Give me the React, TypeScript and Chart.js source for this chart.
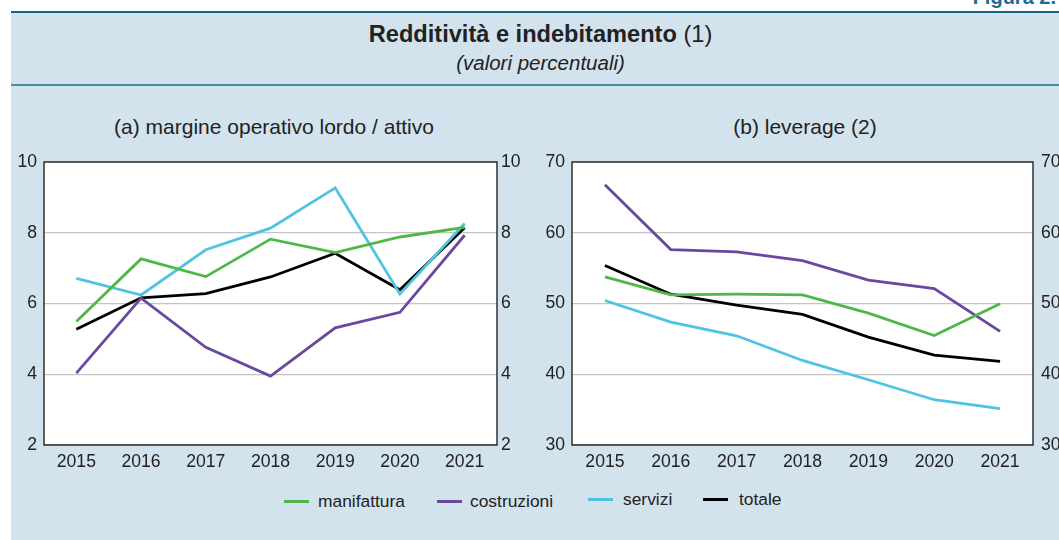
import React, { useEffect, useRef } from "react";
import { Chart, registerables } from "chart.js";

Chart.register(...registerables);

// ---- data ----
const years = ["2015", "2016", "2017", "2018", "2019", "2020", "2021"];

const molManifattura = [5.49, 7.26, 6.76, 7.82, 7.44, 7.88, 8.15];
const molCostruzioni = [4.03, 6.15, 4.76, 3.95, 5.31, 5.75, 7.93];
const molServizi = [6.71, 6.24, 7.52, 8.13, 9.27, 6.27, 8.26];
const molTotale = [5.27, 6.16, 6.28, 6.75, 7.42, 6.39, 8.14];

const levManifattura = [53.76, 51.22, 51.32, 51.22, 48.64, 45.48, 49.95];
const levCostruzioni = [66.8, 57.62, 57.3, 56.07, 53.3, 52.12, 46.05];
const levServizi = [50.42, 47.36, 45.44, 41.95, 39.22, 36.4, 35.13];
const levTotale = [55.36, 51.32, 49.76, 48.45, 45.25, 42.71, 41.81];

const seriesNames = ["manifattura", "costruzioni", "servizi", "totale"];
const seriesColors = ["#4db848", "#6a48a0", "#4fc4e2", "#000000"];

const titleMain = "Redditività e indebitamento";
const titleNote = " (1)";
const titleSub = "(valori percentuali)";
const panelA = "(a) margine operativo lordo / attivo";
const panelB = "(b) leverage (2)";
const figLabel = "Figura 2.";

const FONT = '"Liberation Sans", Arial, Helvetica, sans-serif';

const framePlugin = {
  id: "frame",
  beforeDraw(chart: any) {
    const { ctx, chartArea: a } = chart;
    ctx.save();
    ctx.fillStyle = "#ffffff";
    ctx.fillRect(a.left, a.top, a.right - a.left, a.bottom - a.top);
    ctx.restore();
  },
  beforeDatasetsDraw(chart: any) {
    const { ctx, chartArea: a } = chart;
    ctx.save();
    ctx.strokeStyle = "#222222";
    ctx.lineWidth = 1.4;
    ctx.strokeRect(a.left, a.top, a.right - a.left, a.bottom - a.top);
    ctx.restore();
  },
};

type Area = { left: number; right: number; top: number; bottom: number };

function LineChart(props: {
  series: number[][];
  min: number;
  max: number;
  step: number;
  width: number;
  height: number;
  x: number;
  y: number;
  area: Area;
  padL: number;
  padR: number;
}) {
  const ref = useRef<HTMLCanvasElement | null>(null);
  useEffect(() => {
    if (!ref.current) return;
    const { series, min, max, step, width, height, area, padL, padR } = props;
    const tickFont = { family: FONT, size: 17.6 };
    const chart = new Chart(ref.current, {
      type: "line",
      data: {
        labels: years,
        datasets: series.map((d, i) => ({
          label: seriesNames[i],
          data: d,
          borderColor: seriesColors[i],
          backgroundColor: seriesColors[i],
          borderWidth: 2.8,
          pointRadius: 0,
          tension: 0,
          fill: false,
        })),
      },
      options: {
        responsive: false,
        maintainAspectRatio: false,
        animation: false,
        layout: { padding: { top: area.top, left: 0, right: 0, bottom: 0 } },
        plugins: {
          legend: { display: false },
          title: { display: false },
          tooltip: { enabled: false },
        },
        scales: {
          x: {
            offset: true,
            grid: { display: false, drawTicks: false },
            border: { display: false },
            ticks: { font: tickFont, color: "#222", padding: 7, maxRotation: 0, autoSkip: false },
            afterFit: (s: any) => {
              s.height = height - area.bottom;
            },
          },
          y: {
            position: "left",
            min,
            max,
            ticks: { stepSize: step, font: tickFont, color: "#222", padding: padL },
            grid: { color: "#c4c4c4", lineWidth: 1.2, drawTicks: false },
            border: { display: false },
            afterFit: (s: any) => {
              s.width = area.left;
            },
          },
          y2: {
            position: "right",
            min,
            max,
            ticks: { stepSize: step, font: tickFont, color: "#222", padding: padR },
            grid: { display: false, drawTicks: false },
            border: { display: false },
            afterFit: (s: any) => {
              s.width = width - area.right;
            },
          },
        },
      } as any,
      plugins: [framePlugin],
    });
    return () => chart.destroy();
  }, []);
  return (
    <canvas
      ref={ref}
      width={props.width}
      height={props.height}
      style={{ position: "absolute", left: props.x, top: props.y, width: props.width, height: props.height }}
    />
  );
}

const legendItems = [
  { lineX: 284, textX: 318, y: 501 },
  { lineX: 437, textX: 470, y: 501 },
  { lineX: 588, textX: 623, y: 499 },
  { lineX: 703, textX: 739, y: 499 },
];

export default function App() {
  return (
    <div
      style={{
        position: "absolute",
        left: 0,
        top: 0,
        width: 1059,
        height: 540,
        overflow: "hidden",
        background: "#ffffff",
        fontFamily: FONT,
        color: "#222",
      }}
    >
      <div
        style={{
          position: "absolute",
          right: 3,
          top: -13,
          fontSize: 20,
          lineHeight: "20px",
          fontWeight: "bold",
          color: "#1d6a93",
          whiteSpace: "nowrap",
        }}
      >
        {figLabel}
      </div>
      <div
        style={{
          position: "absolute",
          left: 11,
          top: 11,
          right: 0,
          bottom: 0,
          background: "#d2e3ed",
          borderTop: "2px solid #1b6386",
        }}
      />
      <div style={{ position: "absolute", left: 11, right: 0, top: 84, height: 2, background: "#4b8aa9" }} />
      <div
        style={{
          position: "absolute",
          left: 0,
          width: 1081,
          top: 23,
          textAlign: "center",
          fontSize: 23.6,
          lineHeight: "23.6px",
          whiteSpace: "nowrap",
        }}
      >
        <span style={{ fontWeight: "bold" }}>{titleMain}</span>
        <span>{titleNote}</span>
      </div>
      <div
        style={{
          position: "absolute",
          left: 0,
          width: 1081,
          top: 53,
          textAlign: "center",
          fontSize: 20.5,
          lineHeight: "20.5px",
          fontStyle: "italic",
          whiteSpace: "nowrap",
        }}
      >
        {titleSub}
      </div>
      <div
        style={{
          position: "absolute",
          left: 274 - 300,
          width: 600,
          top: 116,
          textAlign: "center",
          fontSize: 21,
          lineHeight: "21px",
          whiteSpace: "nowrap",
        }}
      >
        {panelA}
      </div>
      <div
        style={{
          position: "absolute",
          left: 805 - 300,
          width: 600,
          top: 116,
          textAlign: "center",
          fontSize: 21,
          lineHeight: "21px",
          whiteSpace: "nowrap",
        }}
      >
        {panelB}
      </div>

      <LineChart
        series={[molManifattura, molCostruzioni, molServizi, molTotale]}
        min={2}
        max={10}
        step={2}
        width={530}
        height={340}
        x={0}
        y={140}
        area={{ left: 44, right: 497, top: 22, bottom: 305 }}
        padL={7}
        padR={4}
      />
      <LineChart
        series={[levManifattura, levCostruzioni, levServizi, levTotale]}
        min={30}
        max={70}
        step={10}
        width={560}
        height={340}
        x={530}
        y={140}
        area={{ left: 42, right: 503, top: 22, bottom: 305 }}
        padL={7}
        padR={8}
      />

      {legendItems.map((it, i) => (
        <React.Fragment key={seriesNames[i]}>
          <div
            style={{
              position: "absolute",
              left: it.lineX,
              top: it.y - 1.5,
              width: 25,
              height: 3,
              background: seriesColors[i],
            }}
          />
          <div
            style={{
              position: "absolute",
              left: it.textX,
              top: it.y - 8.5,
              fontSize: 17.4,
              lineHeight: "17.4px",
              whiteSpace: "nowrap",
            }}
          >
            {seriesNames[i]}
          </div>
        </React.Fragment>
      ))}
    </div>
  );
}
